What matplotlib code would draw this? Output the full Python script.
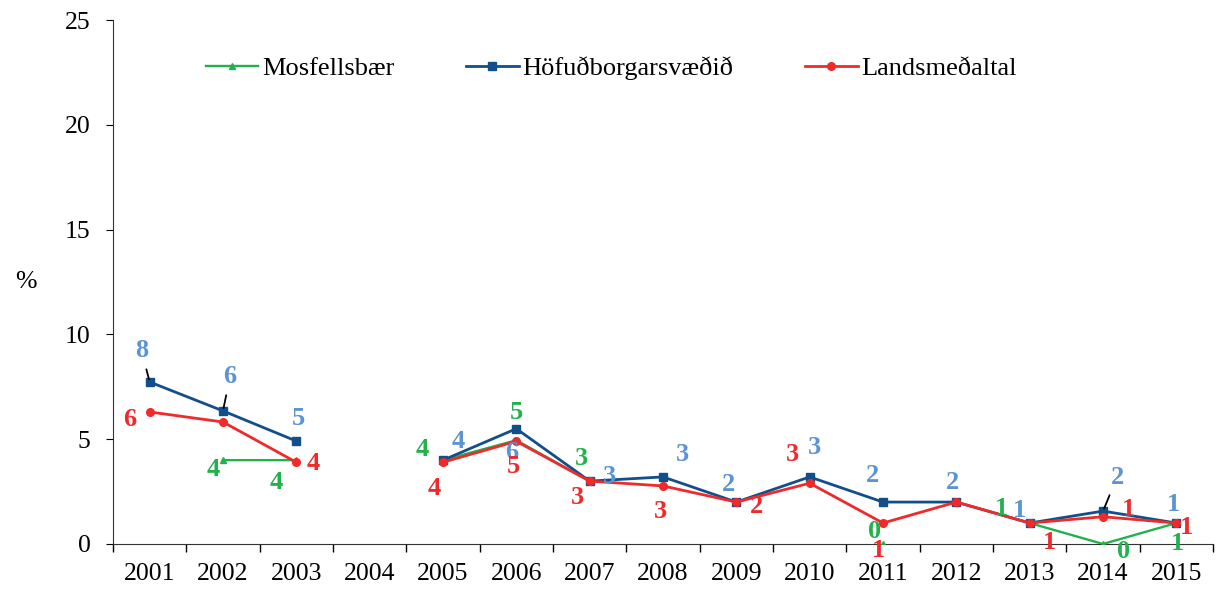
import numpy as np
import matplotlib.pyplot as plt

plt.rcParams['font.family'] = ['Liberation Serif', 'DejaVu Serif']

years = ['2001', '2002', '2003', '2004', '2005', '2006', '2007', '2008',
         '2009', '2010', '2011', '2012', '2013', '2014', '2015']
nan = np.nan
mosfellsbaer = [nan, 4.0, 4.0, nan, 4.0, 4.95, 3.0, nan, nan, nan, 0.0, nan, 1.0, 0.0, 1.0]
hofudborg = [7.73, 6.35, 4.91, nan, 4.0, 5.5, 3.0, 3.2, 2.0, 3.2, 2.0, 2.0, 1.0, 1.57, 1.0]
landsmedaltal = [6.3, 5.82, 3.9, nan, 3.9, 4.9, 3.0, 2.77, 2.0, 2.9, 1.0, 2.0, 1.0, 1.3, 1.0]

# label offsets in pixels (dx right, dy up), None = no label
off_green = [None, (-10, -9), (-20, -22), None, (-21, 11), (0, 28), (-8, 23), None,
             None, None, (-8, 12), None, (-28, 15), (21, -8), (1, -20)]
off_blue = [(-8, 31), (7, 34), (2, 23), None, (15, 19), (-5, -24), (20, 5), (19, 22),
            (-8, 18), (5, 29), (-11, 27), (-4, 20), (-10, 13), (14, 34), (-3, 19)]
off_red = [(-20, -8), None, (17, -1), None, (-9, -26), (-3, -25), (-12, -16), (-3, -26),
           (20, -4), (-17, 29), (-5, -27), None, (20, -19), (25, 7), (10, -4)]
leaders = {(1, 0), (1, 1), (1, 13)}

green = '#22B14C'
blue = '#124E8A'
red = '#EE2A2A'
blue_lbl = '#5B93D3'

fig = plt.figure(figsize=(12.2, 5.92), dpi=100)
ax = fig.add_axes([0.0926, 0.0811, 0.9017, 0.8851])
x = np.arange(len(years))

ax.plot(x, mosfellsbaer, color=green, lw=1.7, marker='^', ms=4, label='Mosfellsbær', zorder=3)
ax.plot(x, hofudborg, color=blue, lw=2.0, marker='s', ms=5.5, label='Höfuðborgarsvæðið', zorder=4)
ax.plot(x, landsmedaltal, color=red, lw=2.0, marker='o', ms=5.5, label='Landsmeðaltal', zorder=5)

series = [(mosfellsbaer, off_green, green), (hofudborg, off_blue, blue_lbl),
          (landsmedaltal, off_red, red)]
for si, (vals, offs, col) in enumerate(series):
    for i, v in enumerate(vals):
        if offs[i] is None or np.isnan(v):
            continue
        txt = '%d' % int(np.floor(v + 0.5))
        kw = {}
        if (si, i) in leaders:
            kw['arrowprops'] = dict(arrowstyle='-', color='black', lw=1.3,
                                    shrinkA=3, shrinkB=2)
        ax.annotate(txt, xy=(i, v), xytext=offs[i], textcoords='offset pixels',
                    ha='center', va='center', color=col, fontsize=19,
                    fontweight='bold', zorder=6, **kw)

ax.set_xlim(-0.5, 14.5)
ax.set_ylim(0, 25)
ax.set_yticks([0, 5, 10, 15, 20, 25])
ax.set_xticks(x)
ax.set_xticklabels(years)
ax.set_xticks(np.arange(-0.5, 15, 1), minor=True)
ax.tick_params(axis='x', which='major', length=0, labelsize=18.5, pad=14)
ax.tick_params(axis='x', which='minor', length=6, direction='out', width=1)
ax.tick_params(axis='y', length=5, direction='out', labelsize=18.5, pad=11)
for s in ['top', 'right']:
    ax.spines[s].set_visible(False)
ax.spines['left'].set_color('#333333')
ax.spines['bottom'].set_color('#333333')
ax.set_ylabel('%', rotation=0, fontsize=18.5, va='center', ha='center')
ax.yaxis.set_label_coords(-0.079, 0.50)

ax.legend(loc='center', bbox_to_anchor=(0.453, 0.908), ncol=3, frameon=False,
          fontsize=19, handlelength=2.0, columnspacing=2.7, handletextpad=0.15)

fig.savefig('out.png', dpi=100)
